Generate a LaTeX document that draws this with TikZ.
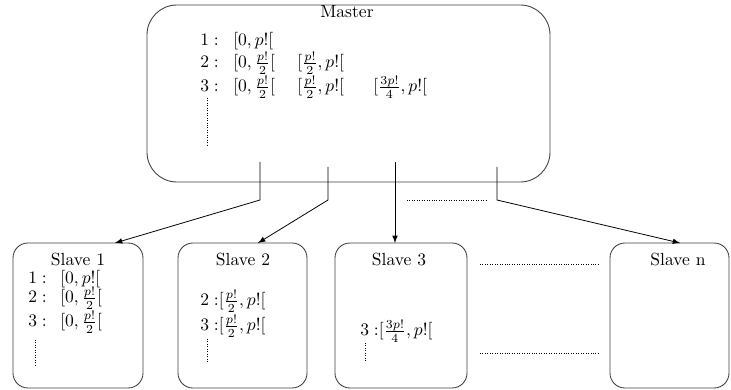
\documentclass[tikz,border=0pt]{standalone}
\usetikzlibrary{calc}
\begin{document}
\begin{tikzpicture}[x=0.57pt, y=-0.57pt,
    box/.style={draw=black!75, line width=0.5pt, inner sep=0pt, outer sep=0pt},
    txt/.style={anchor=base west, inner sep=0pt},
    link/.style={-latex, line width=0.45pt}]
            \def\px{0.57pt}
            \useasboundingbox (0,0) rectangle (731,390);
            % master box
            \node[box, rounded corners=17pt, minimum width=403*\px, minimum height=177*\px] (master) at (348.5,93.5) {};
            \node[anchor=base, inner sep=0pt] (mtitle) at (347,18) {Master};
            \node[txt] (mr1) at (200,46) {$1:$};
            \node[txt] (mr1a) at (233,46) {$[0,p![$};
            \node[txt] (mr2) at (200,68) {$2:$};
            \node[txt] (mr2a) at (233,68) {$[0,\frac{p!}{2}[$};
            \node[txt] (mr2b) at (297,68) {$[\frac{p!}{2},p![$};
            \node[txt] (mr3) at (200,92) {$3:$};
            \node[txt] (mr3a) at (233,92) {$[0,\frac{p!}{2}[$};
            \node[txt] (mr3b) at (297,92) {$[\frac{p!}{2},p![$};
            \node[txt] (mr3c) at (373,92) {$[\frac{3p!}{4},p![$};
            \draw[densely dotted] (207,98) -- (207,145);

            % slave boxes
            \node[box, rounded corners=8.5pt, minimum width=130*\px, minimum height=145*\px] (s1) at (78,315.5) {};
            \node[box, rounded corners=8.5pt, minimum width=129*\px, minimum height=145*\px] (s2) at (242.5,315.5) {};
            \node[box, rounded corners=8.5pt, minimum width=132*\px, minimum height=145*\px] (s3) at (401,315.5) {};
            \node[box, rounded corners=8.5pt, minimum width=119*\px, minimum height=145*\px] (sn) at (669.5,315.5) {};
            \node[anchor=base, inner sep=0pt] (t1) at (78,266) {Slave 1};
            \node[anchor=base, inner sep=0pt] (t2) at (243,266) {Slave 2};
            \node[anchor=base, inner sep=0pt] (t3) at (399,266) {Slave 3};
            \node[anchor=base, inner sep=0pt] (tn) at (678,266) {Slave n};

            \node[txt] (a1) at (28,284) {$1:$};
            \node[txt] (a1a) at (60,284) {$[0,p![$};
            \node[txt] (a2) at (28,303) {$2:$};
            \node[txt] (a2a) at (60,303) {$[0,\frac{p!}{2}[$};
            \node[txt] (a3) at (28,327) {$3:$};
            \node[txt] (a3a) at (60,327) {$[0,\frac{p!}{2}[$};
            \draw[densely dotted] (35,340) -- (35,365);

            \node[txt] (b2) at (200,306) {$2\;{:}[\frac{p!}{2},p![$};
            \node[txt] (b3) at (200,331) {$3\;{:}[\frac{p!}{2},p![$};
            \draw[densely dotted] (207,339) -- (207,363);

            \node[txt] (c3) at (360,336) {$3\;{:}[\frac{3p!}{4},p![$};
            \draw[densely dotted] (365,343) -- (365,362);

            % links master -> slaves
            \coordinate (m1) at (260,162);
            \coordinate (m2) at (328,167);
            \coordinate (m3) at (395,162);
            \coordinate (m4) at (497,167);
            \draw[link] (m1) -- ++(0,38) -- ($(s1.north)+(37,0)$);
            \draw[link] (m2) -- ++(0,33) -- ($(s2.north)+(15.5,0)$);
            \draw[link] (m3) -- ($(s3.north)+(-6,0)$);
            \draw[link] (m4) -- ++(0,33) -- ($(sn.north)+(10.5,0)$);

            \draw[densely dotted] (407,200) -- (487,200);
            \draw[densely dotted] (480,264) -- (598,264);
            \draw[densely dotted] (480,353) -- (598,353);
        \end{tikzpicture}
\end{document}
